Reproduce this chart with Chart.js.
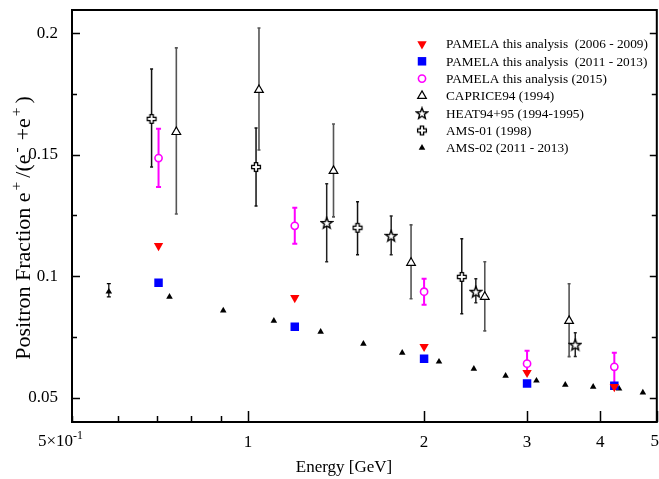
<!DOCTYPE html>
<html>
<head>
<meta charset="utf-8">
<script src="https://cdn.jsdelivr.net/npm/chart.js@4.4.0/dist/chart.umd.min.js"></script>
<style>
  html, body { margin: 0; padding: 0; background: #fff; overflow: hidden; }
  canvas { display: block; }
</style>
</head>
<body>
<canvas id="grafico" width="663" height="479"></canvas>
<script>
// energias em GeV, fracao de positrons
const pamela0609E = [0.703, 1.202, 2.0, 3.0, 4.23];
const pamela0609F = [0.1125, 0.0911, 0.0710, 0.0603, 0.0545];

const pamela1113E = [0.703, 1.202, 2.0, 3.0, 4.23];
const pamela1113F = [0.0973, 0.0792, 0.0660, 0.0558, 0.0549];

const pamela15E = [0.703, 1.202, 2.0, 3.0, 4.23];
const pamela15F = [0.1486, 0.1207, 0.0936, 0.0640, 0.0627];
const pamela15Lo = [0.1367, 0.1133, 0.0882, 0.0605, 0.0545];
const pamela15Hi = [0.1606, 0.1281, 0.0989, 0.0693, 0.0685];

const capriceE = [0.754, 1.044, 1.40, 1.90, 2.54, 3.54];
const capriceF = [0.1593, 0.1766, 0.1433, 0.1055, 0.0915, 0.0816];
const capriceLo = [0.1256, 0.1519, 0.1244, 0.0907, 0.0775, 0.0669];
const capriceHi = [0.1939, 0.2021, 0.1626, 0.1211, 0.1059, 0.0969];

const heatE = [1.363, 1.757, 2.452, 3.627];
const heatF = [0.1219, 0.1166, 0.0936, 0.0718];
const heatLo = [0.1059, 0.1088, 0.0891, 0.0669];
const heatHi = [0.1380, 0.1248, 0.0989, 0.0767];

const ams01E = [0.684, 1.032, 1.539, 2.32];
const ams01F = [0.1647, 0.1449, 0.1199, 0.0997];
const ams01Lo = [0.1449, 0.1289, 0.1088, 0.0845];
const ams01Hi = [0.1852, 0.1610, 0.1306, 0.1154];

const ams02E = [0.578, 0.734, 0.907, 1.107, 1.331, 1.575, 1.835, 2.121, 2.433, 2.757, 3.113, 3.487, 3.892, 4.31, 4.733];
const ams02F = [0.0936, 0.0915, 0.0858, 0.0816, 0.0771, 0.0722, 0.0685, 0.0648, 0.0619, 0.0590, 0.0570, 0.0553, 0.0545, 0.0537, 0.0521];
const ams02Lo = [0.0915, null, null, null, null, null, null, null, null, null, null, null, null, null, null];
const ams02Hi = [0.0969, null, null, null, null, null, null, null, null, null, null, null, null, null, null];

const xTicks = [0.5, 0.6, 0.7, 0.8, 0.9, 1, 2, 3, 4, 5];
const xLabels = ['5\u00d710-1', '', '', '', '', '1', '2', '3', '4', '5'];
const yTicks = [0.05, 0.1, 0.15, 0.2];
const yMinor = [0.075, 0.125, 0.175];

const fonte = 'Liberation Serif, Times New Roman, serif';

function pontos(xs, ys, lo, hi) {
  return xs.map((x, i) => ({
    x: x,
    y: ys[i],
    lo: lo ? lo[i] : null,
    hi: hi ? hi[i] : null
  }));
}

// estrela de 5 pontas vazada
function criarEstrela() {
  const c = document.createElement('canvas');
  c.width = 14; c.height = 14;
  const ctx = c.getContext('2d');
  ctx.translate(7, 7.5);
  ctx.beginPath();
  for (let i = 0; i < 10; i++) {
    const r = i % 2 === 0 ? 5.8 : 2.5;
    const a = -Math.PI / 2 + i * Math.PI / 5;
    const px = Math.cos(a) * r, py = Math.sin(a) * r;
    if (i === 0) ctx.moveTo(px, py); else ctx.lineTo(px, py);
  }
  ctx.closePath();
  ctx.fillStyle = '#fff';
  ctx.fill();
  ctx.lineWidth = 1.4;
  ctx.strokeStyle = '#000';
  ctx.stroke();
  return c;
}

// cruz vazada
function criarCruz() {
  const c = document.createElement('canvas');
  c.width = 12; c.height = 12;
  const ctx = c.getContext('2d');
  ctx.translate(6, 6);
  const a = 1.6, L = 4.4;
  const pts = [[-a,-L],[a,-L],[a,-a],[L,-a],[L,a],[a,a],[a,L],[-a,L],[-a,a],[-L,a],[-L,-a],[-a,-a]];
  ctx.beginPath();
  pts.forEach((p, i) => { if (i === 0) ctx.moveTo(p[0], p[1]); else ctx.lineTo(p[0], p[1]); });
  ctx.closePath();
  ctx.fillStyle = '#fff';
  ctx.fill();
  ctx.lineWidth = 1.3;
  ctx.strokeStyle = '#000';
  ctx.stroke();
  return c;
}

const estrela = criarEstrela();
const cruz = criarCruz();

const datasets = [
  {
    label: 'PAMELA this analysis  (2006 - 2009)',
    data: pontos(pamela0609E, pamela0609F),
    pointStyle: 'triangle', rotation: 180, pointRadius: 5.4,
    backgroundColor: '#ff0000', borderColor: '#ff0000', borderWidth: 0
  },
  {
    label: 'PAMELA this analysis  (2011 - 2013)',
    data: pontos(pamela1113E, pamela1113F),
    pointStyle: 'rect', pointRadius: 6,
    backgroundColor: '#0000ff', borderColor: '#0000ff', borderWidth: 0
  },
  {
    label: 'PAMELA this analysis (2015)',
    data: pontos(pamela15E, pamela15F, pamela15Lo, pamela15Hi),
    pointStyle: 'circle', pointRadius: 3.6,
    backgroundColor: '#ffffff', borderColor: '#ff00ff', borderWidth: 1.6,
    barColor: '#ff00ff', barWidth: 2, cap: 2.5
  },
  {
    label: 'CAPRICE94 (1994)',
    data: pontos(capriceE, capriceF, capriceLo, capriceHi),
    pointStyle: 'triangle', pointRadius: 5,
    backgroundColor: '#ffffff', borderColor: '#000000', borderWidth: 1.2,
    barColor: '#555555', barWidth: 1.6, cap: 1.5
  },
  {
    label: 'HEAT94+95 (1994-1995)',
    data: pontos(heatE, heatF, heatLo, heatHi),
    pointStyle: estrela, pointRadius: 5,
    backgroundColor: '#ffffff', borderColor: '#000000',
    barColor: '#222222', barWidth: 1.5, cap: 1.5
  },
  {
    label: 'AMS-01 (1998)',
    data: pontos(ams01E, ams01F, ams01Lo, ams01Hi),
    pointStyle: cruz, pointRadius: 5,
    backgroundColor: '#ffffff', borderColor: '#000000',
    barColor: '#111111', barWidth: 1.5, cap: 1.5
  },
  {
    label: 'AMS-02 (2011 - 2013)',
    data: pontos(ams02E, ams02F, ams02Lo, ams02Hi),
    pointStyle: 'triangle', pointRadius: 3.8,
    backgroundColor: '#000000', borderColor: '#000000', borderWidth: 0,
    barColor: '#000000', barWidth: 1.2, cap: 2
  }
];

// barras de erro
const barrasErro = {
  id: 'barrasErro',
  beforeDatasetsDraw(chart) {
    const ctx = chart.ctx;
    const xs = chart.scales.x, ys = chart.scales.y;
    ctx.save();
    chart.data.datasets.forEach((ds) => {
      if (!ds.barColor) return;
      ctx.strokeStyle = ds.barColor;
      ctx.lineWidth = ds.barWidth;
      ds.data.forEach((p) => {
        if (p.lo == null || p.hi == null) return;
        const px = xs.getPixelForValue(p.x);
        const y1 = ys.getPixelForValue(p.lo);
        const y2 = ys.getPixelForValue(p.hi);
        ctx.beginPath();
        ctx.moveTo(px, y1); ctx.lineTo(px, y2);
        ctx.moveTo(px - ds.cap, y1); ctx.lineTo(px + ds.cap, y1);
        ctx.moveTo(px - ds.cap, y2); ctx.lineTo(px + ds.cap, y2);
        ctx.stroke();
      });
    });
    ctx.restore();
  }
};

// texto com sobrescritos: partes [texto, sobrescrito?, espaco depois]
function larguraPartes(ctx, partes, tam) {
  let w = 0;
  partes.forEach(([t, sup, gap]) => {
    ctx.font = (sup ? tam * 0.7 : tam) + 'px ' + fonte;
    w += ctx.measureText(t).width + (gap || 0);
  });
  return w;
}

function desenharPartes(ctx, partes, x, y, tam) {
  let cx = x;
  partes.forEach(([t, sup, gap]) => {
    ctx.font = (sup ? tam * 0.7 : tam) + 'px ' + fonte;
    ctx.fillText(t, cx, sup ? y - tam * 0.42 : y);
    cx += ctx.measureText(t).width + (gap || 0);
  });
}

const moldura = {
  id: 'moldura',
  afterDraw(chart) {
    const ctx = chart.ctx;
    const a = chart.chartArea;
    const xs = chart.scales.x, ys = chart.scales.y;
    ctx.save();
    ctx.strokeStyle = '#000';
    ctx.lineWidth = 1.5;

    // marcas do eixo x
    ctx.beginPath();
    xTicks.forEach((v) => {
      const px = Math.round(xs.getPixelForValue(v)) + 0.5;
      const len = v >= 1 ? 11 : 6;
      ctx.moveTo(px, a.bottom); ctx.lineTo(px, a.bottom - len);
    });
    // marcas do eixo y (esquerda e direita)
    yTicks.forEach((v) => {
      const py = Math.round(ys.getPixelForValue(v)) + 0.5;
      ctx.moveTo(a.left, py); ctx.lineTo(a.left + 8, py);
      ctx.moveTo(a.right, py); ctx.lineTo(a.right - 7, py);
    });
    yMinor.forEach((v) => {
      const py = Math.round(ys.getPixelForValue(v)) + 0.5;
      ctx.moveTo(a.left, py); ctx.lineTo(a.left + 5, py);
      ctx.moveTo(a.right, py); ctx.lineTo(a.right - 5, py);
    });
    ctx.stroke();

    ctx.lineWidth = 2;
    ctx.strokeRect(a.left, a.top, a.right - a.left, a.bottom - a.top);

    ctx.fillStyle = '#000';
    ctx.textBaseline = 'alphabetic';
    ctx.textAlign = 'left';

    // rotulos das pontas do eixo x (5x10^-1 com expoente, e 5)
    desenharPartes(ctx, [['5\u00d710', false], ['-1', true]], 38, 446, 17);
    ctx.font = '17px ' + fonte;
    ctx.textAlign = 'center';
    ctx.fillText(xLabels[xLabels.length - 1], xs.getPixelForValue(5) - 2, 446);

    // titulo x
    ctx.fillText('Energy [GeV]', 344, 472);

    // titulo y
    const partesY = [['Positron Fraction e', false, 2], ['+', true, 4], ['/(e', false, 2], ['-', true, 7], ['+e', false, 2], ['+', true, 4], [')', false]];
    ctx.textAlign = 'left';
    const w = larguraPartes(ctx, partesY, 22);
    ctx.save();
    ctx.translate(30, 228);
    ctx.rotate(-Math.PI / 2);
    desenharPartes(ctx, partesY, -w / 2, 0, 22);
    ctx.restore();

    // legenda
    const helpers = Chart.helpers;
    chart.data.datasets.forEach((ds, i) => {
      const ly = 44 + i * 17.3;
      const lx = 422;
      if (typeof ds.pointStyle === 'object') {
        ctx.drawImage(ds.pointStyle, lx - ds.pointStyle.width / 2, ly - ds.pointStyle.height / 2);
      } else {
        ctx.fillStyle = ds.backgroundColor;
        ctx.strokeStyle = ds.borderColor;
        ctx.lineWidth = ds.borderWidth;
        helpers.drawPoint(ctx, {
          pointStyle: ds.pointStyle,
          rotation: ds.rotation || 0,
          radius: ds.pointRadius,
          borderWidth: ds.borderWidth
        }, lx, ly);
      }
      ctx.fillStyle = '#000';
      ctx.font = '13.3px ' + fonte;
      ctx.textAlign = 'left';
      ctx.textBaseline = 'middle';
      ctx.fillText(ds.label, 446, ly + 1);
    });
    ctx.restore();
  }
};

new Chart(document.getElementById('grafico').getContext('2d'), {
  type: 'scatter',
  data: { datasets: datasets },
  options: {
    responsive: false,
    animation: false,
    layout: { padding: { top: 10, right: 0, left: 0, bottom: 0 } },
    plugins: {
      legend: { display: false },
      tooltip: { enabled: false }
    },
    scales: {
      x: {
        type: 'logarithmic',
        min: 0.5,
        max: 5,
        grid: { display: false },
        border: { display: false },
        afterBuildTicks: (s) => { s.ticks = xTicks.map((v) => ({ value: v })); },
        afterFit: (s) => { s.height = 57; },
        ticks: {
          autoSkip: false,
          maxRotation: 0,
          padding: 2,
          color: '#000',
          font: { family: fonte, size: 17 },
          // as pontas sao desenhadas no plugin
          callback: (v) => {
            const i = xTicks.indexOf(v);
            if (i <= 0 || i === xTicks.length - 1) return '';
            return xLabels[i];
          }
        }
      },
      y: {
        type: 'linear',
        min: 0.04,
        max: 0.2095,
        grid: { display: false },
        border: { display: false },
        afterBuildTicks: (s) => { s.ticks = yTicks.map((v) => ({ value: v })); },
        afterFit: (s) => {
          s.width = 72;
          s.paddingTop = 0;
          s.paddingBottom = 0;
        },
        ticks: {
          padding: 6,
          color: '#000',
          font: { family: fonte, size: 17 },
          callback: (v) => String(+v.toFixed(2))
        }
      }
    }
  },
  plugins: [barrasErro, moldura]
});
</script>
</body>
</html>
